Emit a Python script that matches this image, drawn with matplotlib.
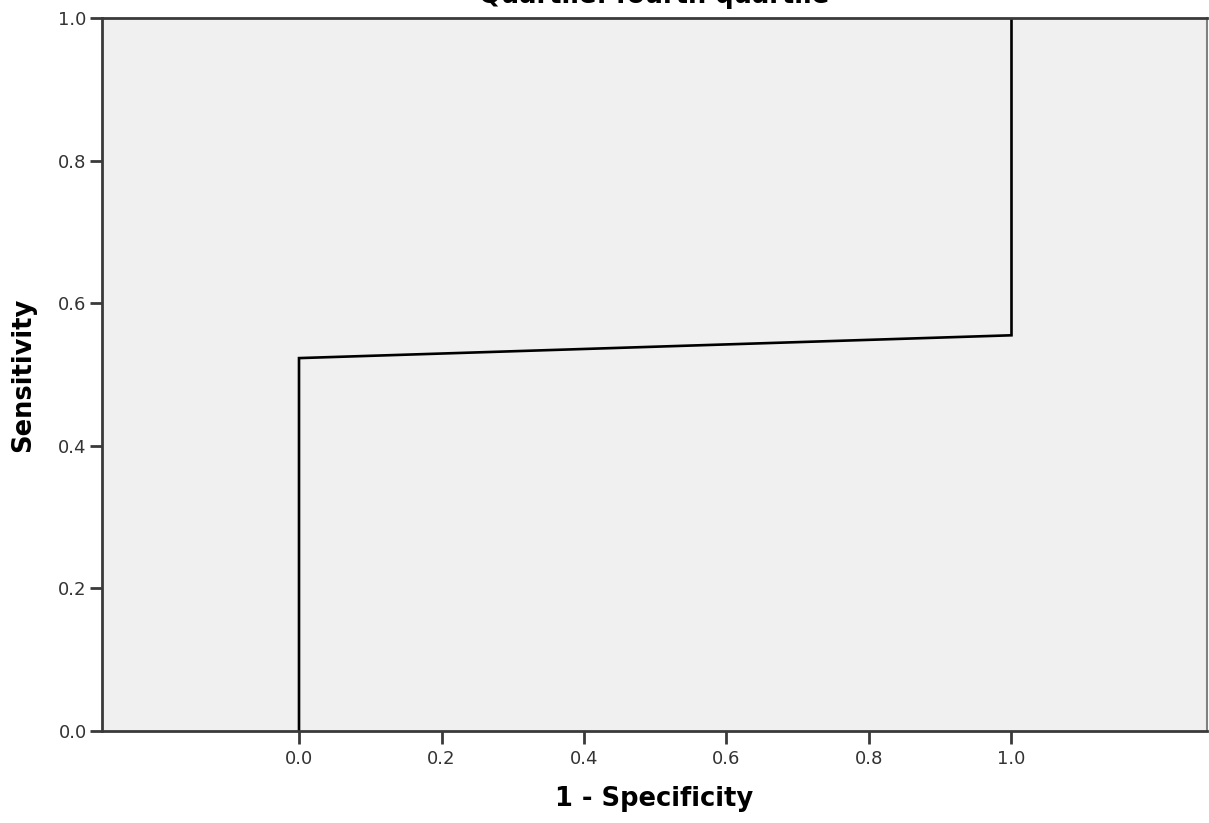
import numpy as np
import matplotlib
matplotlib.use("Agg")
import matplotlib.pyplot as plt

# -- ROC curve points
fpr = [0.0, 0.0, 1.0, 1.0]
tpr = [0.0, 0.523, 0.555, 1.0]

xticks = [0.0, 0.2, 0.4, 0.6, 0.8, 1.0]
yticks = [0.0, 0.2, 0.4, 0.6, 0.8, 1.0]

title  = "Quartile: fourth quartile"
xlabel = "1 - Specificity"
ylabel = "Sensitivity"

plt.rcParams['font.family'] = ['DejaVu Sans']

fig = plt.figure(figsize=[12.09, 8.23], dpi=100)
ax  = fig.add_axes([102 / 1209, 92 / 823, 1105 / 1209, 713 / 823])
ax.set_facecolor("#f0f0f0")

ax.plot(fpr, tpr, color="black", lw=1.9, solid_joinstyle="miter")

ax.set_xlim(-0.2765, 1.2744)
ax.set_ylim(0, 1)
ax.set_xticks(xticks)
ax.set_yticks(yticks)
ax.set_xticklabels(["%.1f" % v for v in xticks])
ax.set_yticklabels(["%.1f" % v for v in yticks])

for side in ["left", "bottom", "top"]:
    ax.spines[side].set_color("#3a3a3a")
    ax.spines[side].set_linewidth(2.0)
ax.spines["right"].set_color("#808080")
ax.spines["right"].set_linewidth(1.5)

ax.tick_params(axis="both", direction="out", length=9, width=2.0,
               color="#3a3a3a", labelsize=13, labelcolor="#333333")
ax.tick_params(axis="y", pad=2)
ax.tick_params(axis="x", pad=5)

ax.set_xlabel(xlabel, fontsize=18.5, fontweight="bold", labelpad=13)
ax.set_ylabel(ylabel, fontsize=18.5, fontweight="bold", labelpad=16)

# title sits partly outside the top of the image, as in the original
fig.text(654 / 1209, 1 - 3 / 823, title, ha="center", va="baseline",
         fontsize=18.5, fontweight="bold")

fig.savefig("out.png", dpi=100)
